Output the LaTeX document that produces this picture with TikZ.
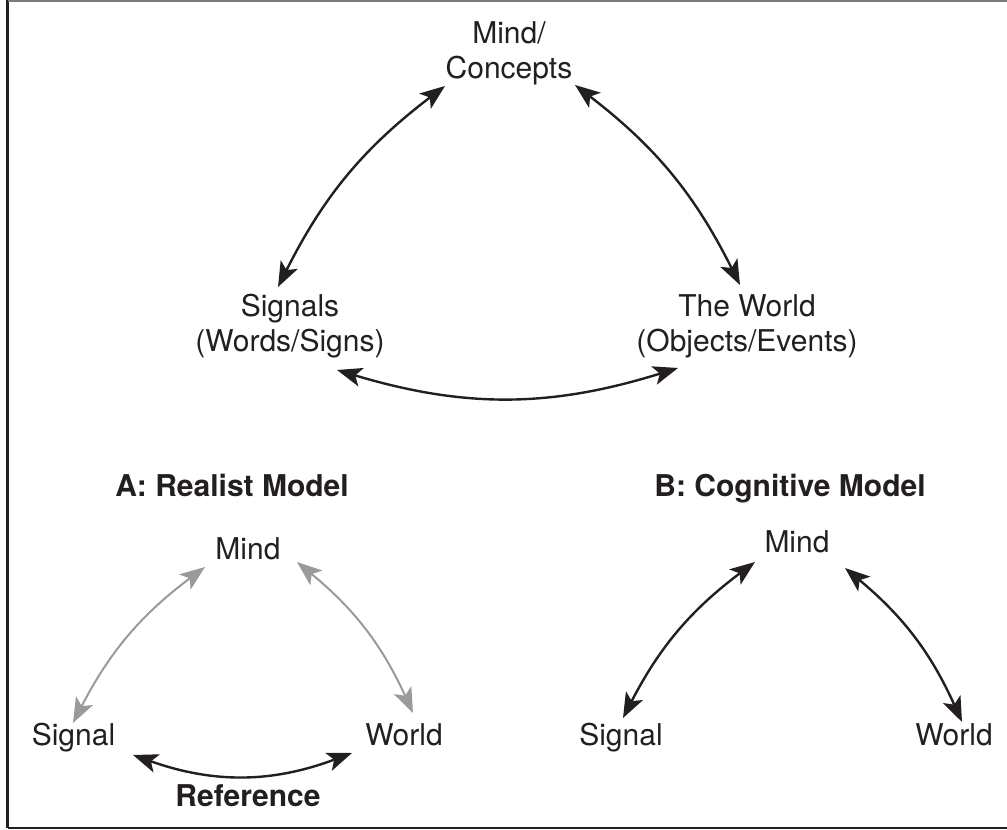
\documentclass[tikz,border=0pt]{standalone}
\usepackage{fontspec}
\setmainfont{TeX Gyre Heros}
\usetikzlibrary{arrows.meta}
\definecolor{ink}{HTML}{231F20}
\definecolor{faintink}{HTML}{9A9A9A}
\begin{document}
\begin{tikzpicture}[x=1pt,y=1pt,
  lbl/.style={font=\fontsize{30}{35}\selectfont, inner sep=0pt, anchor=base, align=center, text=ink},
  ttl/.style={lbl, font=\fontsize{30}{35}\selectfont\bfseries},
  tip/.tip={Stealth[length=25pt,width=19pt,inset=6pt]},
  link/.style={line width=2.4pt, draw=ink, tip-tip},
  faint/.style={line width=2pt, draw=faintink, tip-tip}]
\useasboundingbox (0,0) rectangle (1007,830);

% frame: left, top and bottom rules
\draw[ink, line width=2.6pt] (7.5,830) -- (7.5,2);
\draw[faintink!80!black, line width=1.6pt] (7.5,829.2) -- (1007,829.2);
\draw[ink, line width=2.2pt] (7.5,2) -- (1007,2);

% main triangle (base anchor sits on the last line)
\node[lbl] (mc) at (509,751) {Mind/\\Concepts};
\node[lbl] (sg) at (290,478) {Signals\\(Words/Signs)};
\node[lbl] (wd) at (747,478) {The World\\(Objects/Events)};

\coordinate (mc-l) at (445,744);
\coordinate (mc-r) at (575,745);
\coordinate (sg-t) at (278,543);
\coordinate (sg-b) at (337,460);
\coordinate (wd-t) at (740,545);
\coordinate (wd-b) at (678,462);

\draw[link] (sg-t) to[bend left=13] (mc-l);
\draw[link] (mc-r) to[bend left=13] (wd-t);
\draw[link] (sg-b) to[bend right=17] (wd-b);

% A: realist model
\node[ttl] (ta) at (232,333) {A: Realist Model};
\node[lbl] (ma) at (248,270) {Mind};
\node[lbl] (sa) at (73.5,84) {Signal};
\node[lbl] (wa) at (404,84) {World};
\node[ttl] (ra) at (248,23) {Reference};

\coordinate (ma-l) at (205,263);
\coordinate (ma-r) at (297,268);
\coordinate (sa-t) at (73,107);
\coordinate (sa-r) at (133,75);
\coordinate (wa-t) at (413,117);
\coordinate (wa-l) at (352,77);

\draw[faint] (sa-t) to[bend left=13] (ma-l);
\draw[faint] (ma-r) to[bend left=13] (wa-t);
\draw[link] (sa-r) to[bend right=20] (wa-l);

% B: cognitive model
\node[ttl] (tb) at (790,333) {B: Cognitive Model};
\node[lbl] (mb) at (797,277) {Mind};
\node[lbl] (sb) at (621,84) {Signal};
\node[lbl] (wb) at (954,84) {World};

\coordinate (mb-l) at (755,268);
\coordinate (mb-r) at (845,262);
\coordinate (sb-t) at (623,112);
\coordinate (wb-t) at (962,108);

\draw[link] (sb-t) to[bend left=13] (mb-l);
\draw[link] (mb-r) to[bend left=13] (wb-t);
\end{tikzpicture}
\end{document}
